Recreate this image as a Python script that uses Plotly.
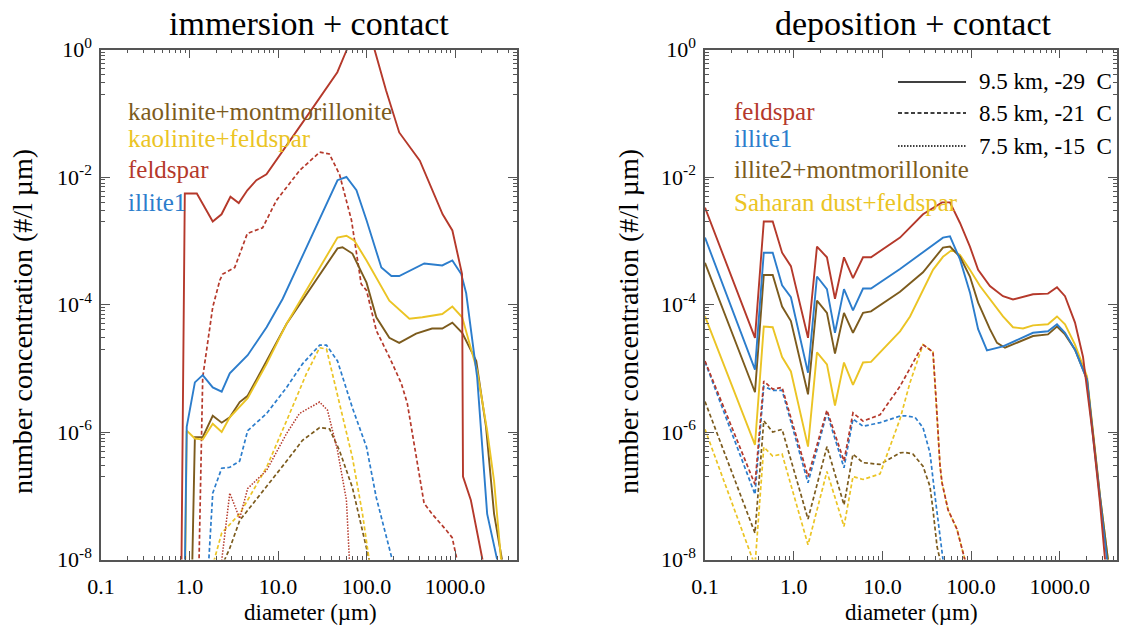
import plotly.graph_objects as go

W, H = 1123, 633

# ---------------- immersion + contact (left panel) ----------------
imm_feldspar_95_d = [0.80, 0.885, 1.21, 1.83, 2.3, 2.9, 3.6, 4.5, 5.7, 7.4, 20.9, 46.8, 60, 80, 123, 166, 234, 400, 724, 933, 1200, 1230, 1510, 2040, 2300]
imm_feldspar_95_c = [1e-9, 5.5e-3, 5.5e-3, 2.0e-3, 2.6e-3, 4.9e-3, 3.9e-3, 6.2e-3, 8.9e-3, 1.1e-2, 8.7e-2, 0.44, 1.0, 2.5, 1.0, 0.23, 0.05, 0.018, 2.6e-3, 1.45e-3, 3.0e-4, 2.0e-7, 8.5e-8, 1.0e-8, 1e-9]

imm_illite1_95_d = [0.87, 0.93, 1.15, 1.41, 1.83, 2.31, 2.85, 4.54, 7.43, 11.3, 47, 59.3, 76.9, 100, 147, 191, 234, 449, 717, 932, 1175, 1336, 1778, 2306, 2990, 3200]
imm_illite1_95_c = [1e-9, 1.2e-6, 6.0e-6, 7.8e-6, 5.0e-6, 4.3e-6, 8.3e-6, 1.6e-5, 4.4e-5, 1.23e-4, 8.9e-3, 1.0e-2, 6.2e-3, 2.1e-3, 3.8e-4, 2.8e-4, 2.8e-4, 4.4e-4, 4.1e-4, 4.9e-4, 3.0e-4, 1.5e-4, 7.2e-6, 5.2e-8, 1.0e-8, 1e-9]

imm_kaomont_95_d = [1.04, 1.15, 1.41, 1.83, 2.31, 2.85, 3.69, 4.54, 7.43, 12.5, 47, 53.5, 69.2, 100, 129, 181, 234, 363, 550, 717, 932, 1204, 1738, 2240, 2760, 3390, 3600]
imm_kaomont_95_c = [1e-9, 8.3e-7, 8.3e-7, 1.8e-6, 1.4e-6, 1.7e-6, 2.95e-6, 3.7e-6, 1.3e-5, 5.0e-5, 7.6e-4, 7.9e-4, 6.3e-4, 2.2e-4, 6.3e-5, 3.0e-5, 2.5e-5, 3.5e-5, 4.2e-5, 4.2e-5, 5.2e-5, 3.6e-5, 1.3e-5, 1.2e-6, 5.2e-8, 1.0e-8, 1e-9]

imm_kaofeld_95_d = [0.88, 0.93, 1.15, 1.41, 1.83, 2.31, 2.85, 4.54, 7.43, 12.5, 47, 59.3, 73, 100, 181, 305, 427, 717, 932, 1204, 1778, 2306, 2760, 3310, 3500]
imm_kaofeld_95_c = [1e-9, 1.05e-6, 7.9e-7, 7.6e-7, 1.35e-6, 1.0e-6, 1.7e-6, 3.4e-6, 1.17e-5, 5.0e-5, 1.12e-3, 1.2e-3, 1.0e-3, 4.9e-4, 1.15e-4, 6.0e-5, 6.3e-5, 7.1e-5, 9.3e-5, 6.3e-5, 9.1e-6, 1.05e-6, 1.7e-7, 1.0e-8, 1e-9]

imm_feldspar_85_d = [1.24, 1.41, 1.83, 2.2, 2.37, 3.24, 4.5, 6.7, 9.6, 17.5, 29.5, 38, 49.5, 67.6, 87, 100, 129, 181, 247, 289, 447, 550, 810, 929, 1050, 1150]
imm_feldspar_85_c = [1e-9, 7.2e-6, 9.1e-5, 2.4e-4, 3.0e-4, 3.8e-4, 1.3e-3, 1.6e-3, 4.3e-3, 1.26e-2, 2.45e-2, 2.3e-2, 1.1e-2, 2.1e-3, 2.1e-4, 1.66e-4, 3.9e-5, 1.5e-5, 5.8e-6, 2.8e-6, 7.6e-8, 5.2e-8, 2.8e-8, 2.2e-8, 1.0e-8, 1e-9]

imm_illite1_85_d = [1.5, 1.83, 2.31, 2.85, 3.69, 4.54, 7.43, 12.5, 18.9, 29.5, 35.3, 47, 69.2, 100, 129, 195, 210]
imm_illite1_85_c = [1e-9, 1.1e-7, 2.7e-7, 2.8e-7, 3.5e-7, 1.05e-6, 1.95e-6, 5.0e-6, 1.17e-5, 2.3e-5, 2.3e-5, 1.3e-5, 2.4e-6, 5.8e-7, 9.3e-8, 1.0e-8, 1e-9]

imm_kaofeld_85_d = [1.5, 2.31, 3.69, 7.43, 12.5, 21, 29.5, 35.3, 49.5, 69.2, 90, 107, 115]
imm_kaofeld_85_c = [3e-9, 2.6e-8, 5.2e-8, 2.8e-7, 1.5e-6, 8.3e-6, 2.1e-5, 2.0e-5, 2.8e-6, 4.0e-7, 5.2e-8, 1.0e-8, 1e-9]

imm_kaomont_85_d = [2.0, 2.85, 3.69, 4.54, 7.43, 12.5, 18.9, 29.5, 38.2, 49.5, 69.2, 90, 107, 115]
imm_kaomont_85_c = [5e-9, 1.5e-8, 4.1e-8, 5.9e-8, 1.35e-7, 3.5e-7, 7.4e-7, 1.17e-6, 1.12e-6, 5.1e-7, 1.35e-7, 2.8e-8, 1.0e-8, 1e-9]

imm_feldspar_75_d = [1.9, 2.85, 3.69, 4.54, 7.43, 12.5, 17.5, 29.5, 36.2, 47, 59.3, 64, 66]
imm_feldspar_75_c = [1e-9, 1.1e-7, 4.4e-8, 1.3e-7, 2.5e-7, 9.5e-7, 1.95e-6, 2.95e-6, 2.2e-6, 5.1e-7, 8.5e-8, 1.0e-8, 1e-9]

# ---------------- deposition + contact (right panel) ----------------
dep_feldspar_95_d = [0.1, 0.366, 0.46, 0.58, 0.74, 0.93, 1.45, 1.83, 2.37, 2.92, 3.69, 4.66, 6.05, 7.44, 15.8, 28.7, 47, 57.8, 75, 97, 120, 163, 229, 297, 499, 736, 930, 1145, 1484, 1828, 2368, 2838, 3236, 3400]
dep_feldspar_95_c = [3.3e-3, 3.0e-5, 2.0e-3, 2.0e-3, 6.5e-4, 4.0e-4, 3.0e-5, 8.1e-4, 5.5e-4, 1.23e-4, 5.5e-4, 2.6e-4, 5.5e-4, 5.5e-4, 1.12e-3, 2.6e-3, 4.0e-3, 4.0e-3, 1.9e-3, 8.1e-4, 3.5e-4, 1.95e-4, 1.35e-4, 1.2e-4, 1.45e-4, 1.48e-4, 1.86e-4, 1.35e-4, 5.2e-5, 1.5e-5, 8.5e-7, 7.8e-8, 1.0e-8, 1e-9]

dep_illite1_95_d = [0.1, 0.366, 0.46, 0.58, 0.74, 0.93, 1.45, 1.83, 2.37, 2.92, 3.69, 4.66, 6.05, 7.44, 15.8, 28.7, 48.2, 57.8, 75, 97, 120, 151, 229, 499, 736, 930, 1145, 1484, 2028, 2368, 2838, 3400, 3600]
dep_illite1_95_c = [1.12e-3, 9.5e-6, 6.5e-4, 6.5e-4, 2.0e-4, 1.3e-4, 8.5e-6, 2.75e-4, 1.74e-4, 3.6e-5, 1.74e-4, 8.1e-5, 1.78e-4, 1.78e-4, 3.6e-4, 6.5e-4, 1.12e-3, 1.17e-3, 5.1e-4, 1.55e-4, 4.1e-5, 1.9e-5, 2.2e-5, 3.6e-5, 3.8e-5, 4.9e-5, 3.6e-5, 1.95e-5, 6.6e-6, 8.5e-7, 8.7e-8, 1.0e-8, 1e-9]

dep_illmont_95_d = [0.1, 0.366, 0.46, 0.58, 0.74, 0.93, 1.45, 1.83, 2.37, 2.92, 3.69, 4.66, 6.05, 7.44, 15.8, 28.7, 48.2, 57.8, 75, 97, 120, 163, 196, 241, 499, 736, 930, 1145, 1484, 2028, 2838, 3490, 3700]
dep_illmont_95_c = [4.5e-4, 4.2e-6, 2.9e-4, 2.9e-4, 9.3e-5, 5.5e-5, 3.9e-6, 1.15e-4, 7.4e-5, 1.7e-5, 7.4e-5, 3.6e-5, 7.4e-5, 7.8e-5, 1.58e-4, 3.2e-4, 7.8e-4, 8.1e-4, 5.6e-4, 2.75e-4, 1.07e-4, 4.1e-5, 2.5e-5, 2.1e-5, 3.2e-5, 3.4e-5, 4.5e-5, 3.4e-5, 1.95e-5, 6.6e-6, 1.0e-7, 1.0e-8, 1e-9]

dep_sahfeld_95_d = [0.1, 0.366, 0.46, 0.58, 0.74, 0.93, 1.45, 1.83, 2.37, 2.92, 3.69, 4.66, 6.05, 7.44, 15.8, 20.5, 37.2, 48.2, 61, 75, 97, 126, 229, 297, 385, 499, 736, 930, 1145, 1484, 2028, 2838, 3490, 3700]
dep_sahfeld_95_c = [6.5e-5, 6.3e-7, 4.5e-5, 4.4e-5, 1.5e-5, 8.9e-6, 5.9e-7, 1.78e-5, 1.15e-5, 2.6e-6, 1.23e-5, 5.5e-6, 1.23e-5, 1.26e-5, 3.8e-5, 6.5e-5, 3.5e-4, 5.6e-4, 7.2e-4, 6.0e-4, 3.5e-4, 1.95e-4, 6.5e-5, 4.4e-5, 4.2e-5, 4.7e-5, 4.9e-5, 6.5e-5, 4.9e-5, 2.35e-5, 7.4e-6, 1.0e-7, 1.0e-8, 1e-9]

dep_feldspar_85_d = [0.1, 0.366, 0.46, 0.58, 0.74, 1.45, 2.37, 3.69, 4.66, 6.05, 9.4, 15.8, 28.7, 37.2, 40.2, 44.6, 47, 55, 69.2, 85, 90]
dep_feldspar_85_c = [1.3e-5, 1.5e-7, 6.3e-6, 4.7e-6, 5.0e-6, 2.0e-7, 2.2e-6, 3.5e-7, 2.0e-6, 1.48e-6, 1.86e-6, 5.2e-6, 2.35e-5, 1.8e-5, 3.5e-6, 3.0e-7, 1.6e-7, 6.0e-8, 3.0e-8, 1.0e-8, 1e-9]

dep_illite1_85_d = [0.1, 0.366, 0.46, 0.58, 0.74, 1.45, 2.37, 3.69, 4.66, 6.05, 9.4, 15.8, 18, 23.3, 28.7, 34.4, 39.2, 44.6, 48.2, 50]
dep_illite1_85_c = [1.26e-5, 1.05e-7, 5.2e-6, 4.5e-6, 4.5e-6, 1.6e-7, 2.0e-6, 2.75e-7, 1.6e-6, 1.23e-6, 1.4e-6, 1.78e-6, 1.8e-6, 1.7e-6, 1.17e-6, 4.7e-7, 9.8e-8, 2.3e-8, 1.0e-8, 1e-9]

dep_illmont_85_d = [0.1, 0.366, 0.46, 0.58, 0.74, 1.45, 2.37, 3.69, 4.66, 6.05, 9.4, 15.8, 18, 22.1, 28.7, 34.4, 37.2, 41.3, 44.6, 46]
dep_illmont_85_c = [3.0e-6, 2.6e-8, 1.5e-6, 1.0e-6, 1.1e-6, 4.3e-8, 5.9e-7, 7.2e-8, 4.5e-7, 3.3e-7, 3.1e-7, 4.7e-7, 4.8e-7, 4.5e-7, 2.9e-7, 1.4e-7, 6.0e-8, 1.6e-8, 1.0e-8, 1e-9]

dep_sahfeld_85_d = [0.1, 0.366, 0.46, 0.58, 0.74, 1.45, 2.37, 3.69, 4.66, 6.05, 9.4, 15.8, 20.5, 28.7, 37.2, 40.2, 44.6, 47, 55, 69.2, 85, 90]
dep_sahfeld_85_c = [1.1e-6, 8e-9, 5.8e-7, 4.2e-7, 4.5e-7, 1.7e-8, 2.4e-7, 3.3e-8, 2.0e-7, 1.8e-7, 2.2e-7, 1.6e-6, 6.0e-6, 2.35e-5, 1.8e-5, 3.5e-6, 3.0e-7, 1.6e-7, 6.0e-8, 3.0e-8, 1.0e-8, 1e-9]

# ---------------- labels / ticks ----------------
x_tickvals = [0.1, 1, 10, 100, 1000]
x_ticktext = ["0.1", "1.0", "10.0", "100.0", "1000.0"]
y_tickvals = [1, 1e-2, 1e-4, 1e-6, 1e-8]
y_ticktext = ["10<sup>0</sup>", "10<sup>-2</sup>", "10<sup>-4</sup>", "10<sup>-6</sup>", "10<sup>-8</sup>"]
left_labels = ["kaolinite+montmorillonite", "kaolinite+feldspar", "feldspar", "illite1"]
right_labels = ["feldspar", "illite1", "illite2+montmorillonite", "Saharan dust+feldspar"]
level_labels = ["9.5 km, -29\u00a0\u00a0C", "8.5 km, -21\u00a0\u00a0C", "7.5 km, -15\u00a0\u00a0C"]

RED = "#B5392B"
BLUE = "#2C7DCC"
OLIVE = "#7C5B1D"
YELLOW = "#EBC424"
FONT = "Times New Roman"

SOLID = dict(width=1.9, dash="solid")
DASH = dict(width=1.7, dash="4px,2.5px")
DOT = dict(width=1.5, dash="1.5px,1.5px")

fig = go.Figure()


def add(d, c, color, style, xa, ya):
    fig.add_trace(go.Scatter(x=d, y=c, mode="lines", line=dict(color=color, **style),
                             xaxis=xa, yaxis=ya, showlegend=False, hoverinfo="skip"))


# left
add(imm_kaomont_85_d, imm_kaomont_85_c, OLIVE, DASH, "x", "y")
add(imm_kaofeld_85_d, imm_kaofeld_85_c, YELLOW, DASH, "x", "y")
add(imm_illite1_85_d, imm_illite1_85_c, BLUE, DASH, "x", "y")
add(imm_feldspar_85_d, imm_feldspar_85_c, RED, DASH, "x", "y")
add(imm_feldspar_75_d, imm_feldspar_75_c, RED, DOT, "x", "y")
add(imm_kaomont_95_d, imm_kaomont_95_c, OLIVE, SOLID, "x", "y")
add(imm_kaofeld_95_d, imm_kaofeld_95_c, YELLOW, SOLID, "x", "y")
add(imm_illite1_95_d, imm_illite1_95_c, BLUE, SOLID, "x", "y")
add(imm_feldspar_95_d, imm_feldspar_95_c, RED, SOLID, "x", "y")

# right
add(dep_illmont_85_d, dep_illmont_85_c, OLIVE, DASH, "x2", "y2")
add(dep_sahfeld_85_d, dep_sahfeld_85_c, YELLOW, DASH, "x2", "y2")
add(dep_illite1_85_d, dep_illite1_85_c, BLUE, DASH, "x2", "y2")
add(dep_feldspar_85_d, dep_feldspar_85_c, RED, DASH, "x2", "y2")
add(dep_sahfeld_95_d, dep_sahfeld_95_c, YELLOW, SOLID, "x2", "y2")
add(dep_illmont_95_d, dep_illmont_95_c, OLIVE, SOLID, "x2", "y2")
add(dep_illite1_95_d, dep_illite1_95_c, BLUE, SOLID, "x2", "y2")
add(dep_feldspar_95_d, dep_feldspar_95_c, RED, SOLID, "x2", "y2")

x_minor = [k * 10.0 ** n for n in range(-1, 4) for k in range(2, 10)]
y_minor = [k * 10.0 ** n for n in (-1, -3, -5, -7) for k in range(2, 10)]

AX = "#555555"
TICKFONT = dict(family=FONT, size=22, color="black")


def xaxis(dom, rng, anchor):
    return dict(type="log", domain=dom, range=rng, anchor=anchor, automargin=False,
                tickmode="array", tickvals=x_tickvals, ticktext=x_ticktext,
                ticks="inside", ticklen=9, tickwidth=1, tickcolor=AX,
                minor=dict(tickmode="array", tickvals=x_minor, ticks="inside", ticklen=4,
                           tickwidth=1, tickcolor=AX, showgrid=False),
                showline=True, linecolor=AX, linewidth=1.5, mirror="ticks",
                showgrid=False, zeroline=False, ticklabelstandoff=6,
                tickfont=TICKFONT)


def yaxis(dom, anchor):
    return dict(type="log", domain=dom, range=[-8, 0], anchor=anchor, automargin=False,
                tickmode="array", tickvals=y_tickvals, ticktext=y_ticktext,
                ticks="inside", ticklen=9, tickwidth=1, tickcolor=AX,
                minor=dict(tickmode="array", tickvals=y_minor, ticks="inside", ticklen=4,
                           tickwidth=1, tickcolor=AX, showgrid=False),
                showline=True, linecolor=AX, linewidth=1.5, mirror="ticks",
                showgrid=False, zeroline=False, ticklabelstandoff=3,
                tickfont=TICKFONT)


ydom = [1 - 559.5 / H, 1 - 49.5 / H]
fig.update_layout(
    width=W, height=H, margin=dict(l=0, r=0, t=0, b=0, autoexpand=False),
    paper_bgcolor="white", plot_bgcolor="white", showlegend=False,
    font=dict(family=FONT, color="black", size=22),
    xaxis=xaxis([101 / W, 517 / W], [-1, 3.70], "y"),
    yaxis=yaxis(ydom, "x"),
    xaxis2=xaxis([705 / W, 1117 / W], [-1, 3.645], "y2"),
    yaxis2=yaxis(ydom, "x2"),
)


def px(x):
    return x / W


def py(y):
    return 1 - y / H


ann = []
# titles
ann.append(dict(text="immersion + contact", x=px(309), y=py(24), font=dict(size=34)))
ann.append(dict(text="deposition + contact", x=px(913), y=py(24), font=dict(size=34)))
# x axis titles
ann.append(dict(text="diameter (µm)", x=px(310), y=py(612), font=dict(size=23)))
ann.append(dict(text="diameter (µm)", x=px(911), y=py(612), font=dict(size=23)))
# y axis titles
for xc in (22, 628):
    ann.append(dict(text="number concentration (#/l µm)", x=px(xc), y=py(322), textangle=-90,
                    font=dict(size=28)))
# left series labels
for lab, col, yc in zip(left_labels, [OLIVE, YELLOW, RED, BLUE], [112, 139, 170, 202]):
    ann.append(dict(text=lab, x=px(126), y=py(yc), xanchor="left", font=dict(size=25, color=col)))
# right series labels
for lab, col, yc in zip(right_labels, [RED, BLUE, OLIVE, YELLOW], [112, 139, 170, 202]):
    ann.append(dict(text=lab, x=px(732), y=py(yc), xanchor="left", font=dict(size=25, color=col)))
# level labels
for lab, yc in zip(level_labels, [82, 113, 146]):
    ann.append(dict(text=lab, x=px(977), y=py(yc), xanchor="left", font=dict(size=23)))

for a in ann:
    a.setdefault("xanchor", "center")
    a.update(xref="paper", yref="paper", yanchor="middle", showarrow=False)
    f = a["font"]
    f.setdefault("color", "black")
    f["family"] = FONT
fig.update_layout(annotations=ann)

# legend sample lines for the three levels
shapes = []
for yc, dash, w in zip([82, 113, 146], ["solid", "4px,2.5px", "1.5px,1.5px"], [1.6, 1.6, 1.4]):
    shapes.append(dict(type="line", xref="paper", yref="paper", x0=px(898), x1=px(966),
                       y0=py(yc), y1=py(yc), line=dict(color="black", width=w, dash=dash)))
fig.update_layout(shapes=shapes)

fig.write_html("out.html")
